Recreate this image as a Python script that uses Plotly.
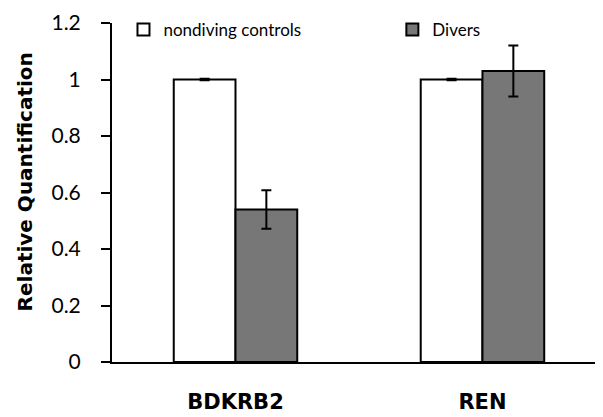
import plotly.graph_objects as go

categories = ["BDKRB2", "REN"]
controls = [1.0, 1.0]
controls_err = [0.003, 0.003]
divers = [0.54, 1.03]
divers_err = [0.068, 0.09]
yticks = [0, 0.2, 0.4, 0.6, 0.8, 1, 1.2]
ytick_labels = ["0", "0.2", "0.4", "0.6", "0.8", "1", "1.2"]
y_title = "Relative Quantification"

FONT = "Lato, Open Sans, sans-serif"
BOLD = "DejaVu Sans, sans-serif"

fig = go.Figure()
fig.add_trace(go.Bar(
    x=categories, y=controls, name="nondiving controls", legend="legend",
    marker=dict(color="white", line=dict(color="black", width=2)),
    error_y=dict(type="data", array=controls_err, color="black", thickness=2, width=5),
))
fig.add_trace(go.Bar(
    x=categories, y=divers, name="Divers", legend="legend2",
    marker=dict(color="#777777", line=dict(color="black", width=2)),
    error_y=dict(type="data", array=divers_err, color="black", thickness=2, width=5),
))

legend_common = dict(orientation="h", yanchor="top", xanchor="left",
                     font=dict(family=FONT, size=17, color="black"),
                     bgcolor="rgba(0,0,0,0)")

fig.update_layout(
    width=595, height=409,
    margin=dict(l=104, r=0, t=15, b=55, autoexpand=False),
    paper_bgcolor="white", plot_bgcolor="white",
    barmode="group", bargap=0.5, bargroupgap=0,
    font=dict(family=FONT, size=18, color="black"),
    showlegend=True,
    legend=dict(x=0.0234, y=1.0324, **legend_common),
    legend2=dict(x=0.571, y=1.0324, **legend_common),
    annotations=[dict(
        text="<b>" + y_title + "</b>", textangle=-90,
        xref="paper", yref="paper", x=-0.177, y=0.53,
        xanchor="center", yanchor="middle", showarrow=False,
        font=dict(family=BOLD, size=20, color="black"),
    )],
)
fig.update_xaxes(
    range=[-0.5, 1.488], showline=True, linecolor="black", linewidth=2,
    ticks="", ticklabelstandoff=20, showgrid=False, automargin=False,
    tickfont=dict(family=BOLD, size=21, color="black", weight="bold"),
)
fig.update_yaxes(
    range=[0, 1.2], tickvals=yticks, ticktext=ytick_labels,
    showline=True, linecolor="black", linewidth=2, ticks="outside", ticklen=9,
    tickwidth=2, tickcolor="black", showgrid=False, zeroline=False, automargin=False,
    tickfont=dict(family=FONT, size=21, color="black"), ticklabelstandoff=16,
)

fig.write_html("out.html")
